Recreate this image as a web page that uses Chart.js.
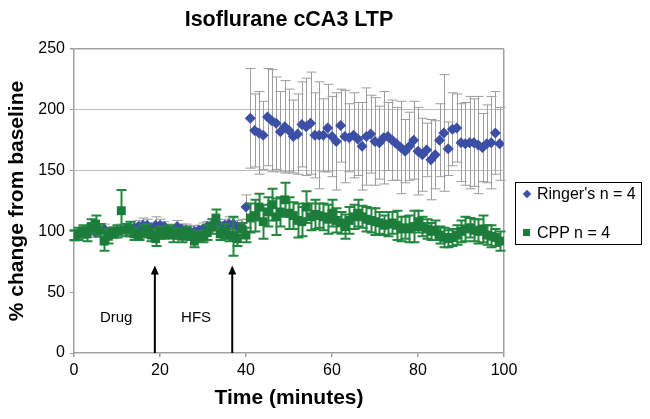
<!DOCTYPE html>
<html>
<head>
<meta charset="utf-8">
<script src="https://cdn.jsdelivr.net/npm/chart.js@4/dist/chart.umd.min.js"></script>
<style>
  html, body { margin: 0; padding: 0; background: #fff; }
  #wrap { position: relative; width: 650px; height: 419px; }
  #legend { position: absolute; left: 515px; top: 182px; width: 125px; height: 61px;
    border: 1px solid #000; font-family: "Liberation Sans", Arial, sans-serif; font-size: 16px; color: #000; }
  .item { position: absolute; left: 0; white-space: nowrap; }
  .txt { position: absolute; left: 21px; top: 0; line-height: 18px; }
  .dia { position: absolute; left: 8px; top: 6px; width: 6px; height: 6px; background: #3c4fa6; transform: rotate(45deg); }
  .sq { position: absolute; left: 7px; top: 5px; width: 7px; height: 7px; background: #1c7d3b; }
</style>
</head>
<body>
<div id="wrap">
  <canvas id="c" width="650" height="419"></canvas>
  <div id="legend">
    <div class="item" style="top:2px"><span class="dia"></span><span class="txt">Ringer's n = 4</span></div>
    <div class="item" style="top:41px"><span class="sq"></span><span class="txt">CPP n = 4</span></div>
  </div>
</div>
<script>
// ---- data ----
const minutes = [0,1,2,3,4,5,6,7,8,9,10,11,12,13,14,15,16,17,18,19,20,21,22,23,24,25,26,27,28,29,30,31,32,33,34,35,36,37,38,39,40,41,42,43,44,45,46,47,48,49,50,51,52,53,54,55,56,57,58,59,60,61,62,63,64,65,66,67,68,69,70,71,72,73,74,75,76,77,78,79,80,81,82,83,84,85,86,87,88,89,90,91,92,93,94,95,96,97,98,99];

const ringerMean = [96,97,99,100,101,99,101,102,99,99,100,101,102,103,103,104,105,105,103,105,105,104,101,101,104,102,101,100,100,101,102,104,105,105,104,105,106,106,104,104,120,
  193,183,181,179,194,191,189,182,186,183,178,180,188,186,189,179,179,179,185,178,174,187,178,177,179,176,170,178,180,174,173,177,178,175,172,169,166,170,175,166,163,167,159,163,175,181,168,184,185,173,172,173,173,171,169,172,173,181,172];
const ringerErr = [4,4,5,4,5,4,5,4,4,5,4,5,4,5,4,5,6,5,4,7,5,4,5,4,5,4,5,4,5,4,5,4,5,5,4,5,6,5,5,6,10,
  41,30,34,28,40,42,38,33,38,34,30,33,35,40,42,35,44,30,36,33,40,30,38,28,35,30,36,40,32,36,30,38,28,33,30,38,26,28,32,36,30,22,33,28,30,48,22,30,28,32,34,38,36,40,28,32,38,34,30];

const cppMean = [97,98,100,98,104,106,101,92,96,99,100,117,101,102,98,97,100,101,97,94,99,98,100,97,98,96,99,97,92,96,96,99,104,111,98,100,97,96,94,102,97,
  111,113,120,108,116,122,112,116,126,115,113,109,108,120,112,114,113,112,110,115,109,107,104,109,112,115,112,110,109,108,107,105,106,107,105,102,103,102,104,108,104,102,100,101,97,95,94,95,97,100,102,103,101,100,102,97,96,95,92];
const cppErr = [4,5,5,6,6,7,5,8,6,4,5,17,5,6,5,4,5,5,5,6,5,4,5,6,4,5,5,4,5,4,5,6,6,7,5,6,5,16,6,5,6,
  12,13,11,14,12,13,15,12,14,13,11,14,12,13,11,12,10,11,12,11,10,9,10,11,10,11,9,10,10,11,9,8,10,9,12,10,9,11,13,9,8,8,7,8,7,8,7,7,8,9,10,8,9,10,11,8,9,7,8];

const seriesNames = ["Ringer's n = 4", "CPP n = 4"];
const xTicks = [0,20,40,60,80,100];
const yTicks = [0,50,100,150,200,250];
const arrowTimes = [18.8, 36.8];
const arrowTop = 72;
const noteLabels = ["Drug", "HFS"];
const noteTimes = [9.8, 28.4];
const noteLevel = 28.8;

const FONT = '"Liberation Sans", Arial, Helvetica, sans-serif';
Chart.defaults.font.family = FONT;
Chart.defaults.color = '#000';

const errorBars = {
  id: 'errorBars',
  beforeDatasetDraw(chart, args) {
    const ds = chart.data.datasets[args.index];
    if (!ds.errors) return;
    const ctx = chart.ctx, xs = chart.scales.x, ys = chart.scales.y;
    ctx.save();
    ctx.strokeStyle = ds.errorColor;
    ctx.lineWidth = ds.errorWidth;
    ds.data.forEach((p, i) => {
      const e = ds.errors[i];
      const px = Math.round(xs.getPixelForValue(p.x)) + 0.5;
      const t = ys.getPixelForValue(p.y + e), b = ys.getPixelForValue(p.y - e);
      ctx.beginPath();
      ctx.moveTo(px, t); ctx.lineTo(px, b);
      ctx.moveTo(px - ds.capHalf, t); ctx.lineTo(px + ds.capHalf, t);
      ctx.moveTo(px - ds.capHalf, b); ctx.lineTo(px + ds.capHalf, b);
      ctx.stroke();
    });
    ctx.restore();
  }
};

const notes = {
  id: 'notes',
  afterDatasetsDraw(chart) {
    const ctx = chart.ctx, xs = chart.scales.x, ys = chart.scales.y;
    ctx.save();
    ctx.strokeStyle = '#000'; ctx.fillStyle = '#000'; ctx.lineWidth = 2;
    arrowTimes.forEach(t => {
      const px = xs.getPixelForValue(t);
      const y0 = ys.getPixelForValue(0), y1 = ys.getPixelForValue(arrowTop);
      ctx.beginPath(); ctx.moveTo(px, y0); ctx.lineTo(px, y1 + 6); ctx.stroke();
      ctx.beginPath(); ctx.moveTo(px, y1); ctx.lineTo(px - 4, y1 + 9); ctx.lineTo(px + 4, y1 + 9); ctx.closePath(); ctx.fill();
    });
    ctx.font = '15px ' + FONT; ctx.textAlign = 'center'; ctx.textBaseline = 'middle';
    noteLabels.forEach((s, i) => ctx.fillText(s, xs.getPixelForValue(noteTimes[i]), ys.getPixelForValue(noteLevel)));
    ctx.restore();
  }
};

const pts = (m) => minutes.map((t, i) => ({ x: t, y: m[i] }));

new Chart(document.getElementById('c'), {
  type: 'scatter',
  data: {
    datasets: [
      { label: seriesNames[0], data: pts(ringerMean), errors: ringerErr, errorColor: '#9d9d9d', errorWidth: 1, capHalf: 5,
        pointStyle: 'rectRot', pointRadius: 5.5, pointHoverRadius: 5.5, backgroundColor: '#3c4fa6', borderColor: '#3c4fa6', borderWidth: 0, order: 2 },
      { label: seriesNames[1], data: pts(cppMean), errors: cppErr, errorColor: '#23883f', errorWidth: 2, capHalf: 5,
        pointStyle: 'rect', pointRadius: 6.3, pointHoverRadius: 6.3, backgroundColor: '#1c7d3b', borderColor: '#1c7d3b', borderWidth: 0, order: 1 }
    ]
  },
  options: {
    responsive: false, animation: false, devicePixelRatio: 1,
    layout: { padding: { left: 0, right: 146, top: 0, bottom: 0 } },
    plugins: {
      legend: { display: false }, tooltip: { enabled: false },
      title: { display: true, text: 'Isoflurane cCA3 LTP', fullSize: false, color: '#000',
        font: { size: 21.5, weight: 'bold' }, padding: { top: 7, bottom: 16.2 } }
    },
    scales: {
      x: {
        type: 'linear', min: 0, max: 100,
        afterFit: s => { s.height = 66; },
        afterBuildTicks: s => { s.ticks = xTicks.map(v => ({ value: v })); },
        ticks: { font: { size: 16 }, color: '#000', padding: 4, maxRotation: 0 },
        grid: { drawOnChartArea: true, tickLength: 4, tickColor: '#999',
          color: c => (c.tick && c.tick.value === 100) ? '#a0a0a0' : 'rgba(0,0,0,0)', lineWidth: 1.5 },
        border: { display: true, color: '#a0a0a0', width: 1.5 },
        title: { display: true, text: 'Time (minutes)', font: { size: 21, weight: 'bold' }, color: '#000', padding: { top: 0, bottom: 8 } }
      },
      y: {
        type: 'linear', min: 0, max: 250,
        afterFit: s => { s.width = 74; },
        afterBuildTicks: s => { s.ticks = yTicks.map(v => ({ value: v })); },
        ticks: { font: { size: 16 }, color: '#000', padding: 5 },
        grid: { tickLength: 4, tickColor: '#999',
          color: c => { const v = c.tick && c.tick.value; return v === 250 ? '#a0a0a0' : (v === 150 || v === 200) ? '#bdbdbd' : 'rgba(0,0,0,0)'; },
          lineWidth: c => (c.tick && c.tick.value === 250) ? 1.5 : 1 },
        border: { display: true, color: '#a0a0a0', width: 1.5 },
        title: { display: true, text: '% change from baseline', font: { size: 21, weight: 'bold' }, color: '#000', padding: { top: 5, bottom: 0 } }
      }
    }
  },
  plugins: [errorBars, notes]
});
</script>
</body>
</html>
